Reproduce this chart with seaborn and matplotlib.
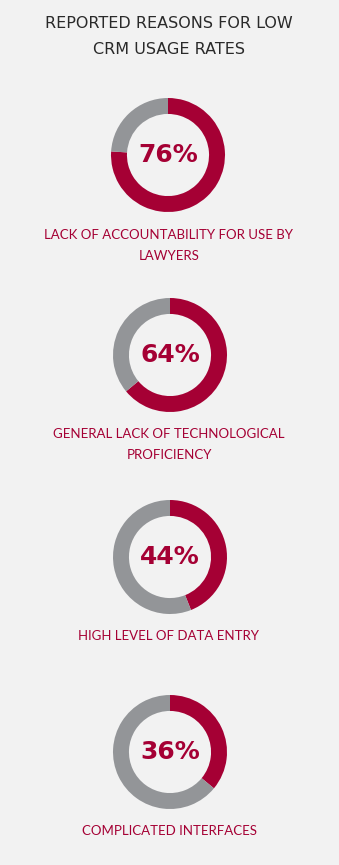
import matplotlib
matplotlib.use("Agg")
import matplotlib.pyplot as plt
import seaborn as sns

sns.set_theme(style="white")
plt.rcParams['font.family'] = ['Lato', 'DejaVu Sans']

title_lines = ["REPORTED REASONS FOR LOW", "CRM USAGE RATES"]
percents = [76, 64, 44, 36]
labels = [["LACK OF ACCOUNTABILITY FOR USE BY", "LAWYERS"],
          ["GENERAL LACK OF TECHNOLOGICAL", "PROFICIENCY"],
          ["HIGH LEVEL OF DATA ENTRY"],
          ["COMPLICATED INTERFACES"]]

RED = "#a50034"
GRAY = "#939598"
BG = "#f2f2f2"

W, H = 339, 865
fig = plt.figure(figsize=(W/100, H/100), dpi=100, facecolor=BG)

centers = [(168, 155), (170, 355), (170, 557), (170, 752)]
label_y = [235, 434, 636, 831]
R = 57

for i, line in enumerate(title_lines):
    fig.text(169/W, 1-(24+26*i)/H, line, ha='center', va='center', fontsize=11.5,
             color='#2a2a2a', family=['DejaVu Sans'])

for (cx, cy), p, lab, ly in zip(centers, percents, labels, label_y):
    ax = fig.add_axes([(cx-R)/W, (H-cy-R)/H, 2*R/W, 2*R/H])
    ax.set_facecolor(BG)
    ax.pie([p, 100-p], colors=[RED, GRAY], startangle=90, counterclock=False,
           radius=1, wedgeprops=dict(width=0.28, edgecolor='none'))
    ax.set_xlim(-1, 1); ax.set_ylim(-1, 1)
    ax.set_aspect('equal')
    ax.axis('off')
    ax.text(0, 0, f"{p}%", ha='center', va='center', fontsize=18, fontweight='bold',
            color=RED, family=['DejaVu Sans'])
    for i, line in enumerate(lab):
        fig.text(169/W, 1-(ly+21*i)/H, line, ha='center', va='center', fontsize=9.5, color=RED)

fig.savefig("out.png", dpi=100, facecolor=BG)
